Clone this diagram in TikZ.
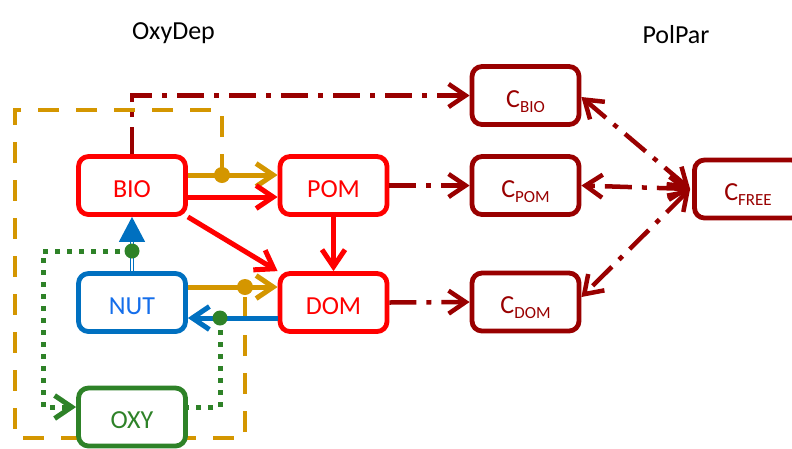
\documentclass[tikz,border=0pt]{standalone}
\usepackage{fontspec}
\setmainfont{Carlito}
\usetikzlibrary{arrows.meta,backgrounds}
\definecolor{cred}{RGB}{255,0,0}
\definecolor{cgold}{RGB}{212,150,0}
\definecolor{dred}{RGB}{153,0,0}
\definecolor{cblue}{RGB}{0,112,192}
\definecolor{tblue}{RGB}{20,110,235}
\definecolor{cgreen}{RGB}{46,130,40}
\tikzset{
  box/.style={draw, fill=white, rounded corners=10pt, line width=4.8pt,
    minimum width=107pt, minimum height=58pt, inner sep=0pt,
    text height=23pt, text depth=0pt, font=\fontsize{26}{28}\selectfont},
  barb/.style={-{Straight Barb[length=17pt,width=23pt]}},
  barbs/.style={{Straight Barb[length=17pt,width=23pt]}-{Straight Barb[length=17pt,width=23pt]}},
  flow/.style={line width=5pt},
  goldframe/.style={cgold, line width=4.3pt, dash pattern=on 21pt off 17pt},
  dashdot/.style={dred, line width=4.5pt, dash pattern=on 27pt off 10pt on 5pt off 10pt},
  greendot/.style={cgreen, line width=5pt, dash pattern=on 5pt off 7pt},
  title/.style={font=\fontsize{26}{28}\selectfont, anchor=base, inner sep=0pt}
}
\newcommand{\csub}[1]{C\raisebox{-5pt}{\fontsize{17}{17}\selectfont #1}}
\begin{document}
\begin{tikzpicture}[x=1pt,y=-1pt]
\useasboundingbox (0,0) rectangle (792,448);
\clip (0,0) rectangle (792,448);

% titles
\node[title] (t1) at (173.5,39.3) {OxyDep};
\node[title] (t2) at (676,43.3) {PolPar};

% boxes
\node[box, draw=cred, text=cred] (bio) at (132,185.5) {BIO};
\node[box, draw=cred, text=cred] (pom) at (333.5,185.5) {POM};
\node[box, draw=cred, text=cred] (dom) at (333.5,302.5) {DOM};
\node[box, draw=cblue, text=tblue] (nut) at (132,302.5) {NUT};
\node[box, draw=cgreen, text=cgreen] (oxy) at (132,417) {OXY};
\node[box, draw=dred, text=dred] (cbio) at (525.5,95.5) {\csub{BIO}};
\node[box, draw=dred, text=dred] (cpom) at (525.5,185.5) {\csub{POM}};
\node[box, draw=dred, text=dred] (cdom) at (525.5,302) {\csub{DOM}};
\node[box, draw=dred, text=dred] (cfree) at (748,189) {\csub{FREE}};

% junction points
\coordinate (gd1) at (222,175);
\coordinate (gd2) at (245,287);
\coordinate (gn1) at (132,251);
\coordinate (gn2) at (220,318);

% gold dashed frame (behind boxes)
\begin{pgfonlayer}{background}
\draw[goldframe] (gd1) -- (222,110) -- (15,110) -- (15,438) -- (245,438) -- (gd2);
\end{pgfonlayer}

% gold arrows
\draw[flow, cgold, barb] (bio.east |- gd1) -- (pom.west |- gd1);
\draw[flow, cgold, barb] (nut.east |- gd2) -- (dom.west |- gd2);

% red arrows
\draw[flow, cred, barb] ([yshift=-11.5pt]bio.east) -- ([yshift=-11.5pt]pom.west);
\draw[flow, cred, barb] (bio.south east) -- (dom.north west);
\draw[flow, cred, barb] (pom.south) -- (dom.north);

% blue arrows
\draw[flow, cblue, barb] (dom.west |- gn2) -- (nut.east |- gn2);
\draw[cblue, line width=1.4pt, double=white, double distance=1.8pt,
  -{Triangle[length=25pt,width=26pt]}] (nut.north) -- (bio.south);

% green dotted
\draw[greendot, barb] (gn1) -- (43,251) |- ([yshift=10pt]oxy.west);
\draw[greendot] (gn2) |- ([yshift=10pt]oxy.east);

% dark red dash-dot
\draw[dashdot, barb] (bio.north) |- (cbio.west);
\draw[dashdot, barb] (pom.east) -- (cpom.west);
\draw[dashdot, barb] (dom.east) -- (cdom.west);
\coordinate (cf) at ([xshift=-2pt]cfree.west);
\draw[dashdot, barbs] (cf) -- ([yshift=-1.5pt]cbio.east);
\draw[dashdot, barbs] (cf) -- (cpom.east);
\draw[dashdot, barbs] (cf) -- ([yshift=5pt]cdom.east);

% dots
\fill[cgold] (gd1) circle (8pt);
\fill[cgold] (gd2) circle (8pt);
\fill[cgreen] (gn1) circle (7.5pt);
\fill[cgreen] (gn2) circle (7.5pt);
\end{tikzpicture}
\end{document}
